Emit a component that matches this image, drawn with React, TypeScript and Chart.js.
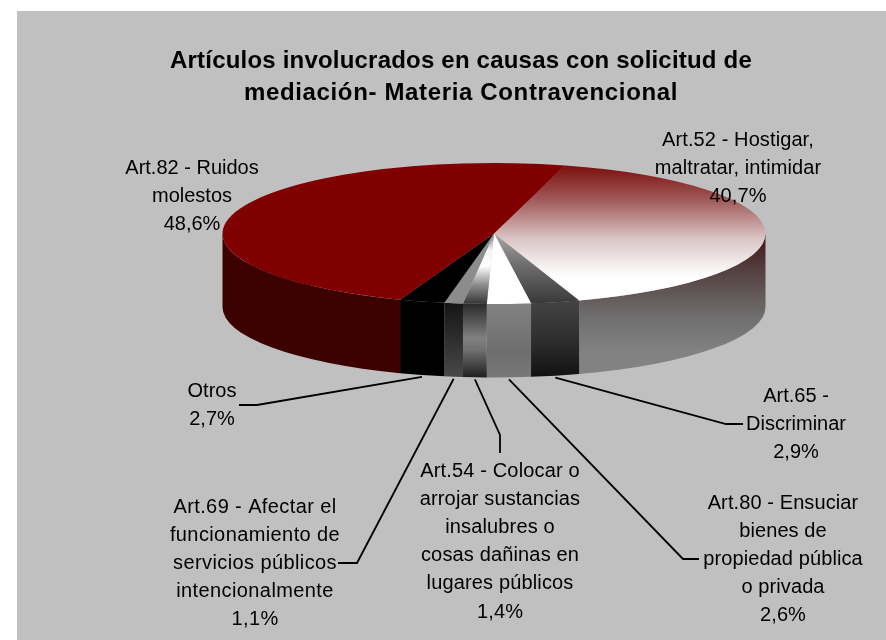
import React, { useEffect, useRef } from "react";
import { Chart, registerables } from "chart.js";

Chart.register(...registerables);

const categories = [
  "Art.52 - Hostigar, maltratar, intimidar",
  "Art.65 - Discriminar",
  "Art.80 - Ensuciar bienes de propiedad pública o privada",
  "Art.54 - Colocar o arrojar sustancias insalubres o cosas dañinas en lugares públicos",
  "Art.69 - Afectar el funcionamiento de servicios públicos intencionalmente",
  "Otros",
  "Art.82 - Ruidos molestos",
];
const values = [40.7, 2.9, 2.6, 1.4, 1.1, 2.7, 48.6];
const wrappedLabels = [
  ["Art.52 - Hostigar,", "maltratar, intimidar"],
  ["Art.65 -", "Discriminar"],
  ["Art.80 - Ensuciar", "bienes de", "propiedad pública", "o privada"],
  ["Art.54 - Colocar o", "arrojar sustancias", "insalubres o", "cosas dañinas en", "lugares públicos"],
  ["Art.69 - Afectar el", "funcionamiento de", "servicios públicos", "intencionalmente"],
  ["Otros"],
  ["Art.82 - Ruidos", "molestos"],
];
const titleLines = [
  "Artículos involucrados en causas con solicitud de",
  "mediación- Materia Contravencional",
];

// layout of the label blocks: centre x, middle of first line, spacing, optional leader route
const labelX = [738, 796, 783, 500, 255, 212, 192];
const labelY = [140, 396, 503, 471, 507, 391, 168];
const labelSpacing = [0.1, 0, 0.1, 0.15, 0.4, 0, 0];
const titleSpacing = [0.2, 0.65];
const leaderRoutes: number[][][] = [
  [],
  [[726, 424], [743, 424]],
  [[683, 559], [699, 559]],
  [[500, 435], [500, 453]],
  [[357, 563], [338, 563]],
  [[257, 405], [239, 405]],
  [],
];

const CX = 494, CY = 233.5, RX = 271.5, RY = 70.5, DEPTH = 73.5;
const ROTATION = 15.2;

type Stops = [number, string][];
// top faces: stops at screen y
const topFills: (string | Stops)[] = [
  [[165, "#7a0d0d"], [200, "#a05a5a"], [240, "#dcc8c8"], [277, "#ffffff"], [304, "#ffffff"]],
  [[233, "#a8a8a8"], [265, "#6e6e6e"], [304, "#383838"]],
  "#ffffff",
  [[236, "#8a8a8a"], [250, "#f4f4f4"], [266, "#ffffff"], [285, "#8c8c8c"], [303, "#3a3a3a"]],
  "#8c8c8c",
  "#000000",
  "#800000",
];
// side faces: stops at screen y
const sideFills: (string | Stops)[] = [
  [[235, "#401818"], [280, "#5a4a4a"], [317, "#706e6e"], [352, "#828282"]],
  [[304, "#424242"], [340, "#2e2e2e"], [377, "#121212"]],
  [[304, "#828282"], [350, "#6e6e6e"], [377, "#787878"]],
  [[304, "#2a2a2a"], [338, "#808080"], [350, "#707070"], [377, "#202020"]],
  [[304, "#161616"], [377, "#484848"]],
  "#000000",
  "#3c0000",
];

const FONT = '"Liberation Sans", Arial, sans-serif';

function makeFill(ctx: CanvasRenderingContext2D, f: string | Stops, toY: (y: number) => number) {
  if (typeof f === "string") return f;
  const y0 = f[0][0], y1 = f[f.length - 1][0];
  const g = ctx.createLinearGradient(0, toY(y0), 0, toY(y1));
  f.forEach(([y, c]) => g.addColorStop((y - y0) / (y1 - y0), c));
  return g;
}

const pie3d = {
  id: "pie3d",
  beforeDraw(chart: any) {
    const { ctx, width, height } = chart;
    ctx.save();
    ctx.fillStyle = "#ffffff";
    ctx.fillRect(0, 0, width, height);
    ctx.fillStyle = "#c0c0c0";
    ctx.fillRect(17, 11, width - 17, height - 11);
    ctx.restore();
  },
  beforeDatasetsDraw(chart: any) {
    const { ctx } = chart;
    const arcs = chart.getDatasetMeta(0).data;
    const TAU = Math.PI * 2;
    arcs.forEach((arc: any, i: number) => {
      const s = ((arc.startAngle % TAU) + TAU) % TAU;
      const e = s + (arc.endAngle - arc.startAngle);
      const ranges = [
        [Math.max(s, 0), Math.min(e, Math.PI)],
        [Math.max(s, TAU), Math.min(e, TAU + Math.PI)],
      ];
      ranges.forEach(([a0, a1]) => {
        if (a1 <= a0) return;
        ctx.save();
        ctx.beginPath();
        ctx.ellipse(CX, CY, RX, RY, 0, a0, a1);
        ctx.ellipse(CX, CY + DEPTH, RX, RY, 0, a1, a0, true);
        ctx.closePath();
        ctx.fillStyle = makeFill(ctx, sideFills[i], (y) => y);
        ctx.fill();
        ctx.restore();
      });
    });
    const first = arcs[0];
    ctx.save();
    ctx.translate(first.x, CY);
    ctx.scale(1, RY / first.outerRadius);
    ctx.translate(-first.x, -first.y);
  },
  afterDatasetsDraw(chart: any) {
    const { ctx } = chart;
    ctx.restore();
    const arcs = chart.getDatasetMeta(0).data;

    ctx.save();
    ctx.strokeStyle = "#000000";
    ctx.lineWidth = 1.8;
    arcs.forEach((arc: any, i: number) => {
      const route = leaderRoutes[i];
      if (!route.length) return;
      const mid = (arc.startAngle + arc.endAngle) / 2;
      ctx.beginPath();
      ctx.moveTo(CX + RX * Math.cos(mid), CY + DEPTH + RY * Math.sin(mid) + 2);
      route.forEach(([x, y]) => ctx.lineTo(x, y));
      ctx.stroke();
    });

    ctx.fillStyle = "#000000";
    ctx.textAlign = "center";
    ctx.textBaseline = "middle";
    ctx.font = `20px ${FONT}`;
    wrappedLabels.forEach((lines, i) => {
      const pct = values[i].toFixed(1).replace(".", ",") + "%";
      (ctx as any).letterSpacing = `${labelSpacing[i]}px`;
      [...lines, pct].forEach((t, k) => ctx.fillText(t, labelX[i], labelY[i] + k * 28.2));
    });
    ctx.font = `bold 24px ${FONT}`;
    titleLines.forEach((t, k) => {
      (ctx as any).letterSpacing = `${titleSpacing[k]}px`;
      ctx.fillText(t, 461, 61 + k * 32);
    });
    ctx.restore();
  },
};

export default function App() {
  const ref = useRef<HTMLCanvasElement>(null);
  useEffect(() => {
    const canvas = ref.current!;
    const R = RX;
    const chart = new Chart(canvas, {
      type: "pie",
      data: {
        labels: categories,
        datasets: [
          {
            data: values,
            clip: false,
            borderWidth: 0,
            backgroundColor: (c: any) => {
              const chartObj = c.chart;
              const area = chartObj.chartArea;
              if (!area) return "#800000";
              const mid = (area.top + area.bottom) / 2;
              const toY = (y: number) => mid + ((y - CY) * R) / RY;
              return makeFill(chartObj.ctx, topFills[c.dataIndex], toY);
            },
          } as any,
        ],
      },
      options: {
        responsive: false,
        animation: false,
        rotation: ROTATION,
        radius: R,
        layout: { padding: { left: CX - R, right: 886 - CX - R, top: 48, bottom: 49 } },
        events: [],
        plugins: { legend: { display: false }, tooltip: { enabled: false }, title: { display: false } },
      } as any,
      plugins: [pie3d],
    });
    return () => chart.destroy();
  }, []);
  return (
    <canvas
      ref={ref}
      width={886}
      height={640}
      style={{ position: "fixed", left: 0, top: 0, width: 886, height: 640, display: "block" }}
    />
  );
}
